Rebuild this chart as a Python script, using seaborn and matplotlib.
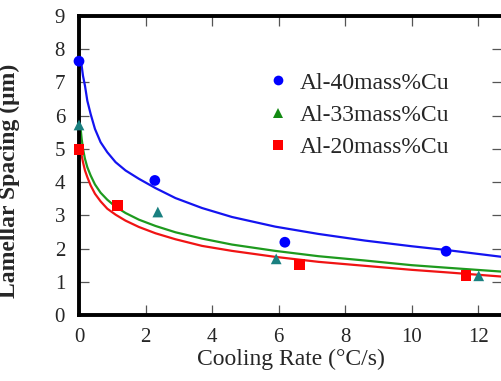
import numpy as np
import pandas as pd
import matplotlib
matplotlib.use("Agg")
import matplotlib.pyplot as plt
import seaborn as sns
from matplotlib.lines import Line2D

# ---- data ----
series = ["Al-40mass%Cu", "Al-33mass%Cu", "Al-20mass%Cu"]

rate_40 = [0.0, 2.28, 6.19, 11.04]
spacing_40 = [7.64, 4.05, 2.19, 1.92]
rate_33 = [0.0, 2.37, 5.93, 12.02]
spacing_33 = [5.72, 3.10, 1.69, 1.18]
rate_20 = [0.0, 1.15, 6.64, 11.64]
spacing_20 = [4.98, 3.29, 1.51, 1.19]

# fitted curves as drawn in the reference
curve_x = [0.05, 0.08, 0.12, 0.18, 0.25, 0.35, 0.48, 0.65, 0.85, 1.1, 1.4, 1.8,
           2.3, 2.9, 3.7, 4.6, 5.9, 7.2, 8.6, 10.0, 11.1, 12.8]
curve_y_40 = [7.7, 7.5, 7.2, 6.9, 6.45, 6.05, 5.6, 5.2, 4.9, 4.6, 4.35, 4.1,
              3.82, 3.52, 3.22, 2.95, 2.66, 2.44, 2.24, 2.07, 1.95, 1.74]
curve_y_33 = [5.6, 5.3, 5.0, 4.7, 4.45, 4.2, 3.93, 3.68, 3.47, 3.26, 3.07, 2.87,
              2.68, 2.49, 2.30, 2.12, 1.93, 1.77, 1.64, 1.50, 1.42, 1.30]
curve_y_20 = [5.0, 4.8, 4.6, 4.35, 4.15, 3.9, 3.65, 3.42, 3.2, 3.02, 2.84, 2.65,
              2.46, 2.28, 2.08, 1.93, 1.75, 1.60, 1.48, 1.36, 1.28, 1.15]

x_ticks = [0, 2, 4, 6, 8, 10, 12]
y_ticks = [0, 1, 2, 3, 4, 5, 6, 7, 8, 9]

# ---- style ----
sns.set_style("ticks")
plt.rcParams["font.family"] = ["Liberation Serif", "DejaVu Serif"]

fig = plt.figure(figsize=(5.02, 3.81), dpi=100)
ax = fig.add_axes([79 / 502, 66 / 381, (502 - 79) / 502, (315 - 16) / 381])

line_colors = {"Al-40mass%Cu": "#1414f0", "Al-33mass%Cu": "#1e9a1e", "Al-20mass%Cu": "#f01414"}
point_colors = {"Al-40mass%Cu": "#0000ff", "Al-33mass%Cu": "#1a8080", "Al-20mass%Cu": "#ff0000"}
legend_colors = {"Al-40mass%Cu": "#0000ff", "Al-33mass%Cu": "#138a13", "Al-20mass%Cu": "#ff0000"}
markers = {"Al-40mass%Cu": "o", "Al-33mass%Cu": "^", "Al-20mass%Cu": "s"}

curves = pd.concat([
    pd.DataFrame({"rate": curve_x, "spacing": curve_y_40, "alloy": series[0]}),
    pd.DataFrame({"rate": curve_x, "spacing": curve_y_33, "alloy": series[1]}),
    pd.DataFrame({"rate": curve_x, "spacing": curve_y_20, "alloy": series[2]}),
])
points = pd.concat([
    pd.DataFrame({"rate": rate_40, "spacing": spacing_40, "alloy": series[0]}),
    pd.DataFrame({"rate": rate_33, "spacing": spacing_33, "alloy": series[1]}),
    pd.DataFrame({"rate": rate_20, "spacing": spacing_20, "alloy": series[2]}),
])

sns.lineplot(data=curves, x="rate", y="spacing", hue="alloy", palette=line_colors,
             linewidth=1.6, legend=False, sort=False, ax=ax, zorder=2)
sns.scatterplot(data=points, x="rate", y="spacing", hue="alloy", style="alloy",
                palette=point_colors, markers=markers, s=60, linewidth=0,
                legend=False, ax=ax, zorder=4, clip_on=False)

ax.set_xlim(0, 12.72)
ax.set_ylim(0, 9)
ax.set_xticks(x_ticks)
ax.set_yticks(y_ticks)

for side in ["left", "bottom", "top"]:
    ax.spines[side].set_linewidth(2.8)
    ax.spines[side].set_color("black")
ax.spines["right"].set_visible(False)

ax.tick_params(direction="in", length=7, width=0.9, color="#555555",
               top=True, right=True, labelsize=15, pad=9)
ax.tick_params(axis="y", pad=10)

ax.set_xlabel("Cooling Rate (\u00b0C/s)", fontsize=17, labelpad=2)
ax.set_ylabel("Lamellar Spacing (\u03bcm)", fontsize=17, fontweight="bold")
ax.yaxis.set_label_coords(-0.14, 0.45)

handles = [Line2D([], [], linestyle="none", marker=markers[s], color=legend_colors[s],
                  markersize=7, markeredgewidth=0) for s in series]
ax.legend(handles, series, frameon=False, loc="upper left",
          bbox_to_anchor=(0.442, 0.812), fontsize=17, handlelength=1.0,
          handletextpad=0.45, labelspacing=0.45, borderpad=0, borderaxespad=0)

fig.savefig("out.png", dpi=100)
